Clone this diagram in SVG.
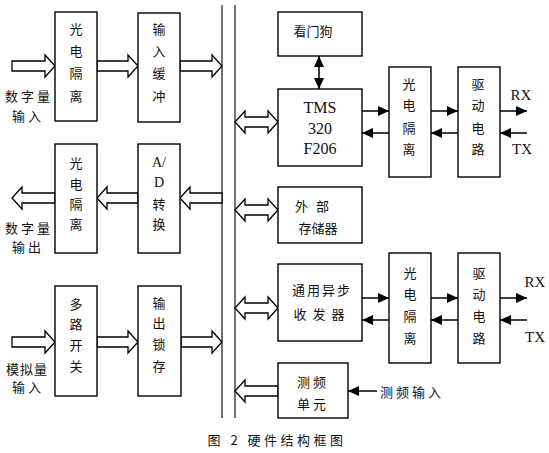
<svg xmlns="http://www.w3.org/2000/svg" width="549" height="453" viewBox="0 0 549 453">
<style>
.box{fill:#fff;stroke:#000;stroke-width:1.4}
.bus{stroke:#000;stroke-width:1.1;fill:none}
.ha{fill:#fff;stroke:#000;stroke-width:1.3}
.ln{stroke:#000;stroke-width:1.5;fill:none}
.cj{font-family:"Noto Sans CJK SC","Noto Sans",sans-serif;font-size:13px;fill:#111;text-anchor:middle;dominant-baseline:central}
.sr{font-family:"Liberation Serif",serif;fill:#111;text-anchor:middle;dominant-baseline:central}
</style>
<defs>
<marker id="ah" markerUnits="userSpaceOnUse" markerWidth="12" markerHeight="10" refX="11" refY="5" orient="auto-start-reverse">
<path d="M0,0 L11,5 L0,10 Z" fill="#000"/>
</marker>
</defs>
<rect width="549" height="453" fill="#fff"/>

<g id="bus">
<line class="bus" x1="222" y1="5" x2="222" y2="418"/>
<line class="bus" x1="235" y1="5" x2="235" y2="418"/>
</g>

<g id="connectors">
<polygon class="ha" points="12,61 45,61 45,55 55,66 45,77 45,71 12,71"/>
<polygon class="ha" points="97,61 128,61 128,55 138,66 128,77 128,71 97,71"/>
<polygon class="ha" points="180,61 212,61 212,55 222,66 212,77 212,71 180,71"/>
<polygon class="ha" points="222,193 190,193 190,187 180,198 190,209 190,203 222,203"/>
<polygon class="ha" points="138,193 107,193 107,187 97,198 107,209 107,203 138,203"/>
<polygon class="ha" points="55,193 22,193 22,187 12,198 22,209 22,203 55,203"/>
<polygon class="ha" points="12,337 45,337 45,331 55,342 45,353 45,347 12,347"/>
<polygon class="ha" points="97,337 128,337 128,331 138,342 128,353 128,347 97,347"/>
<polygon class="ha" points="181,337 212,337 212,331 222,342 212,353 212,347 181,347"/>
<polygon class="ha" points="235,122 245,111 245,117 268,117 268,111 278,122 268,133 268,127 245,127 245,133"/>
<polygon class="ha" points="235,210 245,199 245,205 268,205 268,199 278,210 268,221 268,215 245,215 245,221"/>
<polygon class="ha" points="235,308 245,297 245,303 268,303 268,297 278,308 268,319 268,313 245,313 245,319"/>
<polygon class="ha" points="278,386 245,386 245,380 235,391 245,402 245,396 278,396"/>
<line class="ln" x1="319" y1="56" x2="319" y2="89" stroke-width="1.2" marker-start="url(#ah)" marker-end="url(#ah)"/>
<line class="ln" x1="362" y1="111" x2="389" y2="111" marker-end="url(#ah)"/>
<line class="ln" x1="389" y1="133" x2="362" y2="133" marker-end="url(#ah)"/>
<line class="ln" x1="431" y1="111" x2="458" y2="111" marker-end="url(#ah)"/>
<line class="ln" x1="458" y1="133" x2="431" y2="133" marker-end="url(#ah)"/>
<line class="ln" x1="500" y1="111" x2="527" y2="111" marker-end="url(#ah)"/>
<line class="ln" x1="527" y1="133" x2="500" y2="133" marker-end="url(#ah)"/>
<line class="ln" x1="362" y1="298" x2="389" y2="298" marker-end="url(#ah)"/>
<line class="ln" x1="389" y1="320" x2="362" y2="320" marker-end="url(#ah)"/>
<line class="ln" x1="431" y1="298" x2="458" y2="298" marker-end="url(#ah)"/>
<line class="ln" x1="458" y1="320" x2="431" y2="320" marker-end="url(#ah)"/>
<line class="ln" x1="500" y1="298" x2="527" y2="298" marker-end="url(#ah)"/>
<line class="ln" x1="527" y1="320" x2="500" y2="320" marker-end="url(#ah)"/>
<line class="ln" x1="377" y1="391" x2="348" y2="391" marker-end="url(#ah)"/>
</g>

<g id="n_iso1">
<rect class="box" x="55" y="12" width="42" height="109"/>
<text class="cj" x="76" y="28">光</text><text class="cj" x="76" y="50">电</text><text class="cj" x="76" y="72">隔</text><text class="cj" x="76" y="95">离</text>
</g>
<g id="n_inbuf">
<rect class="box" x="138" y="13" width="42" height="109"/>
<text class="cj" x="159" y="28">输</text><text class="cj" x="159" y="50">入</text><text class="cj" x="159" y="72">缓</text><text class="cj" x="159" y="95">冲</text>
</g>
<g id="n_iso2">
<rect class="box" x="55" y="144" width="42" height="109"/>
<text class="cj" x="76" y="162">光</text><text class="cj" x="76" y="183">电</text><text class="cj" x="76" y="203">隔</text><text class="cj" x="76" y="223">离</text>
</g>
<g id="n_ad">
<rect class="box" x="138" y="144" width="42" height="109"/>
<text class="sr" x="159" y="162" font-size="14">A/</text><text class="sr" x="159" y="182" font-size="14">D</text><text class="cj" x="159" y="203">转</text><text class="cj" x="159" y="223">换</text>
</g>
<g id="n_mux">
<rect class="box" x="55" y="286" width="42" height="110"/>
<text class="cj" x="76" y="303">多</text><text class="cj" x="76" y="323">路</text><text class="cj" x="76" y="344">开</text><text class="cj" x="76" y="365">关</text>
</g>
<g id="n_latch">
<rect class="box" x="138" y="286" width="43" height="110"/>
<text class="cj" x="159" y="302">输</text><text class="cj" x="159" y="322">出</text><text class="cj" x="159" y="343">锁</text><text class="cj" x="159" y="365">存</text>
</g>

<g id="labels_left">
<text class="cj" x="29" y="95" letter-spacing="3">数字量</text>
<text class="cj" x="28" y="115" letter-spacing="3">输入</text>
<text class="cj" x="29" y="227" letter-spacing="3">数字量</text>
<text class="cj" x="28" y="246" letter-spacing="3">输出</text>
<text class="cj" x="27" y="368" font-size="12" letter-spacing="1">模拟量</text>
<text class="cj" x="28" y="386" font-size="12" letter-spacing="3">输入</text>
</g>

<g id="n_wdt">
<rect class="box" x="278" y="12" width="84" height="44"/>
<text class="cj" x="313" y="30">看门狗</text>
</g>
<g id="n_tms">
<rect class="box" x="278" y="89" width="84" height="77"/>
<text class="sr" x="320" y="107" font-size="16">TMS</text>
<text class="sr" x="320" y="128" font-size="16">320</text>
<text class="sr" x="320" y="148" font-size="16">F206</text>
</g>
<g id="n_mem">
<rect class="box" x="278" y="187" width="84" height="56"/>
<text class="cj" x="316" y="205" letter-spacing="8">外部</text>
<text class="cj" x="318" y="227">存储器</text>
</g>
<g id="n_uart">
<rect class="box" x="278" y="264" width="84" height="77"/>
<text class="cj" x="322" y="289" letter-spacing="2">通用异步</text>
<text class="cj" x="322" y="313" letter-spacing="6">收发器</text>
</g>
<g id="n_freq">
<rect class="box" x="278" y="363" width="70" height="55"/>
<text class="cj" x="313" y="381" letter-spacing="3">测频</text>
<text class="cj" x="313" y="403" letter-spacing="3">单元</text>
</g>
<text class="cj" x="412" y="391" letter-spacing="3">测频输入</text>

<g id="n_iso3">
<rect class="box" x="389" y="67" width="42" height="110"/>
<text class="cj" x="409" y="83">光</text><text class="cj" x="409" y="104">电</text><text class="cj" x="409" y="127">隔</text><text class="cj" x="409" y="148">离</text>
</g>
<g id="n_drv1">
<rect class="box" x="458" y="67" width="42" height="110"/>
<text class="cj" x="478" y="83">驱</text><text class="cj" x="478" y="104">动</text><text class="cj" x="478" y="127">电</text><text class="cj" x="478" y="148">路</text>
</g>
<g id="n_iso4">
<rect class="box" x="389" y="253" width="42" height="110"/>
<text class="cj" x="410" y="272">光</text><text class="cj" x="410" y="293">电</text><text class="cj" x="410" y="315">隔</text><text class="cj" x="410" y="337">离</text>
</g>
<g id="n_drv2">
<rect class="box" x="458" y="253" width="42" height="110"/>
<text class="cj" x="479" y="272">驱</text><text class="cj" x="479" y="293">动</text><text class="cj" x="479" y="315">电</text><text class="cj" x="479" y="337">路</text>
</g>

<g id="io_labels">
<text class="sr" x="521" y="95" font-size="15">RX</text>
<text class="sr" x="522" y="149" font-size="15">TX</text>
<text class="sr" x="535" y="282" font-size="15">RX</text>
<text class="sr" x="535" y="337" font-size="15">TX</text>
</g>

<text class="cj" x="277" y="439" font-size="12" letter-spacing="3.5">图 2 硬件结构框图</text>
</svg>
